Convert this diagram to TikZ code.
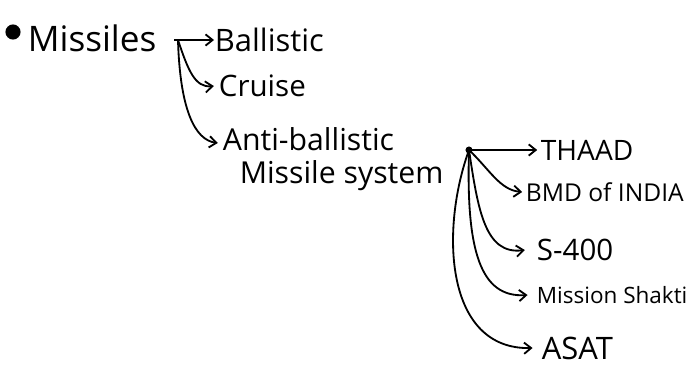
\documentclass[tikz,border=0pt]{standalone}
\usepackage{fontspec}
\setmainfont{Open Sans}
\usetikzlibrary{arrows.meta}
\begin{document}
\begin{tikzpicture}[x = 0.25mm, y = -0.25mm, line width = 1.3pt,
  lbl/.style = {anchor = west, inner sep = 0pt, font = \fontsize{20}{23}\selectfont},
  arr/.style = {-{Straight Barb[length = 5pt, width = 8pt]}}]
\useasboundingbox (0,0) rectangle (689,369);
\node[circle, fill, inner sep = 3.8pt] (dot) at (13,32) {};
\node[anchor = west, inner sep = 0pt, font = \fontsize{25}{28}\selectfont] (missiles) at (27,38) {Missiles};
\coordinate (fa) at (178,40);
\node[lbl, font = \fontsize{22}{24}\selectfont] (ball) at (214,40) {Ballistic};
\node[lbl, font = \fontsize{21}{24}\selectfont] (cruise) at (218,86) {Cruise};
\node[lbl, align = left, anchor = north west, font = \fontsize{21.5}{23}\selectfont] (abm) at (222,127) {Anti-ballistic\\\hspace*{12pt}Missile system};
\coordinate (fb) at (469,150);
\node[lbl] (thaad) at (540,150) {THAAD};
\node[lbl, font = \fontsize{17.5}{20}\selectfont] (bmd) at (525,192) {BMD of INDIA};
\node[lbl, font = \fontsize{21}{24}\selectfont] (s400) at (536,250) {S-400};
\node[lbl, font = \fontsize{16}{18}\selectfont] (mission) at (536,295) {Mission Shakti};
\node[lbl, font = \fontsize{22}{24}\selectfont] (asat) at (541,348) {ASAT};
% from Missiles
\draw (fa) -- ++(-4,0);
\draw[arr] (fa) -- (ball.west);
\draw[arr] (fa) .. controls (188,70) and (195,88) .. ([xshift=-3pt]cruise.west);
\draw[arr] (fa) .. controls (180,110) and (195,140) .. ([xshift=-3pt]abm.north west |- 0,143);
% from Anti-ballistic missile system
\fill (fb) circle (2.5pt);
\draw[arr] (fb) -- ([xshift=-2pt]thaad.west);
\draw[arr] (fb) .. controls (490,170) and (500,190) .. ([xshift=-2pt]bmd.west);
\draw[arr] (fb) .. controls (478,210) and (485,255) .. ([xshift=-8pt]s400.west);
\draw[arr] (fb) .. controls (466,250) and (480,298) .. ([xshift=-6pt]mission.west);
\draw[arr] (fb) .. controls (440,230) and (445,350) .. ([xshift=-6pt]asat.west);
\end{tikzpicture}
\end{document}
